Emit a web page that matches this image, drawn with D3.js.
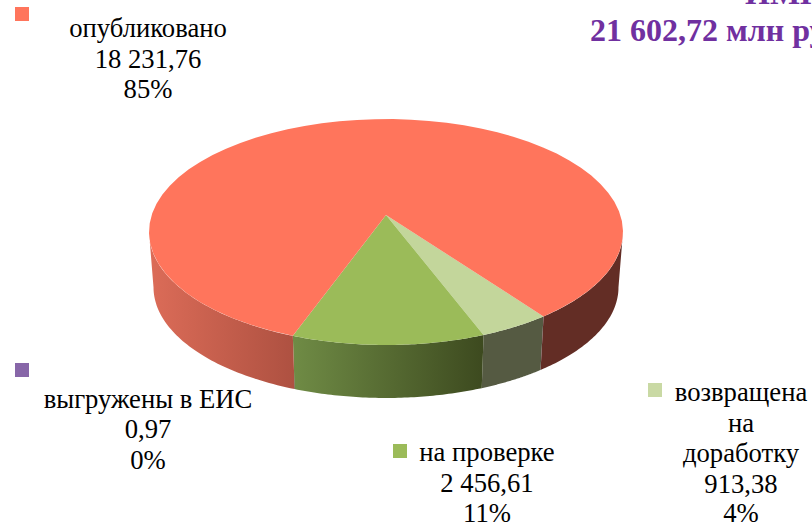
<!DOCTYPE html>
<html>
<head>
<meta charset="utf-8">
<script src="https://cdn.jsdelivr.net/npm/d3@7"></script>
<style>
  html, body { margin: 0; padding: 0; background: #fff; overflow: hidden; }
  text { font-family: "Liberation Serif", serif; }
</style>
</head>
<body>
<div id="chart"></div>
<script>
// data, in the order the slices run clockwise
var categories = ["возвращена на доработку", "на проверке", "опубликовано", "выгружены в ЕИС"];
var values = [913.38, 2456.61, 18231.76, 0.97];
var valueLabels = ["913,38", "2 456,61", "18 231,76", "0,97"];
var percentLabels = ["4%", "11%", "85%", "0%"];
var titleLines = ["ИМН", "21 602,72 млн руб."];

var topColors = ["#c3d69b", "#9bbb59", "#ff755c", "#8064a2"];
var keyColors = ["#c9d9a4", "#9bbb59", "#ff755c", "#8766a8"];

var width = 812, height = 523;

var svg = d3.select("#chart").append("svg")
    .attr("width", width)
    .attr("height", height);

// the pie is a disc seen in perspective: the centre sits above the middle of the ellipse
var apexX = 386, apexY = 215;
var persp = 0.1505, discW = 234.3, discH = 110.4;

function project(a) {
  var u = Math.sin(a), v = Math.cos(a);
  var w = 1 + persp * v;
  return [apexX + discW * u / w, apexY - discH * v / w];
}
// bottom rim is a bit smaller than the top one
function projectBottom(a) {
  var p = project(a);
  return [apexX + (p[0] - apexX) * 0.981, apexY + (p[1] - apexY) * 0.98 + 55.6];
}

var pie = d3.pie().sort(null).startAngle(143.8 * Math.PI / 180).endAngle((143.8 + 360) * Math.PI / 180);
var slices = pie(values);

function rim(a0, a1) {
  return d3.range(0, 61).map(function(i) { return a0 + (a1 - a0) * i / 60; });
}
var line = d3.line();

// side wall gradients, all in screen coords
var defs = svg.append("defs");
function grad(id, x1, x2, stops) {
  var g = defs.append("linearGradient").attr("id", id)
      .attr("gradientUnits", "userSpaceOnUse")
      .attr("x1", x1).attr("x2", x2).attr("y1", 0).attr("y2", 0);
  stops.forEach(function(s) {
    g.append("stop").attr("offset", s[0]).attr("stop-color", s[1]);
  });
}
grad("wall0", 482, 543, [[0, "#555a42"], [1, "#555a42"]]);
grad("wall1", 294, 483, [[0, "#6f8b45"], [1, "#3d4a1f"]]);
grad("wall2", 149, 623, [[0, "#dc6c58"], [0.305, "#ae5141"], [0.305, "#632d25"], [1, "#632d25"]]);
grad("wall3", 149, 623, [[0, "#8064a2"], [1, "#8064a2"]]);

// walls: only the part of each slice facing the viewer, between the two widest points of the rim
var front0 = Math.acos(-persp), front1 = 2 * Math.PI - front0;
function wallPieces(d) {
  var out = [];
  [0, 2 * Math.PI].forEach(function(shift) {
    var a0 = Math.max(d.startAngle, front0 + shift), a1 = Math.min(d.endAngle, front1 + shift);
    if (a1 > a0) out.push([a0, a1]);
  });
  return out;
}
slices.forEach(function(d, i) {
  wallPieces(d).forEach(function(p) {
    var angles = rim(p[0], p[1]);
    var top = angles.map(project);
    var bottom = angles.slice().reverse().map(projectBottom);
    svg.append("path")
        .attr("d", line(top.concat(bottom)) + "Z")
        .attr("fill", "url(#wall" + i + ")");
  });
});

// top face
svg.selectAll("path.top")
  .data(slices)
  .enter()
  .append("path")
    .attr("class", "top")
    .attr("fill", function(d, i) { return topColors[i]; })
    .attr("d", function(d) {
      var pts = rim(d.startAngle, d.endAngle).map(project);
      return line([[apexX, apexY]].concat(pts)) + "Z";
    });

// labels
var labels = [
  { key: [648, 383], x: 741, ys: [401, 432, 462, 493, 522], lines: ["возвращена", "на", "доработку"] },
  { key: [393, 444], x: 487, ys: [461, 492, 522], lines: ["на проверке"] },
  { key: [15, 7], x: 148, ys: [37, 68, 98], lines: ["опубликовано"] },
  { key: [15, 363], x: 148, ys: [408, 438, 469], lines: ["выгружены в ЕИС"] }
];

labels.forEach(function(l, i) {
  svg.append("rect")
      .attr("x", l.key[0]).attr("y", l.key[1])
      .attr("width", 14).attr("height", 14)
      .attr("fill", keyColors[i]);
  var txt = l.lines.concat([valueLabels[i], percentLabels[i]]);
  txt.forEach(function(t, j) {
    svg.append("text")
        .attr("x", l.x)
        .attr("y", l.ys[j])
        .attr("text-anchor", "middle")
        .attr("font-size", 26.67)
        .attr("fill", "#000")
        .text(t);
  });
});

// title, cut by the top and right edges of the picture
svg.selectAll("text.title")
  .data(titleLines)
  .enter()
  .append("text")
    .attr("class", "title")
    .attr("x", function(d, i) { return i == 0 ? 745 : 590; })
    .attr("y", function(d, i) { return 4 + i * 37; })
    .attr("font-size", 32)
    .attr("font-weight", "bold")
    .attr("fill", "#7030a0")
    .text(function(d) { return d; });
</script>
</body>
</html>
